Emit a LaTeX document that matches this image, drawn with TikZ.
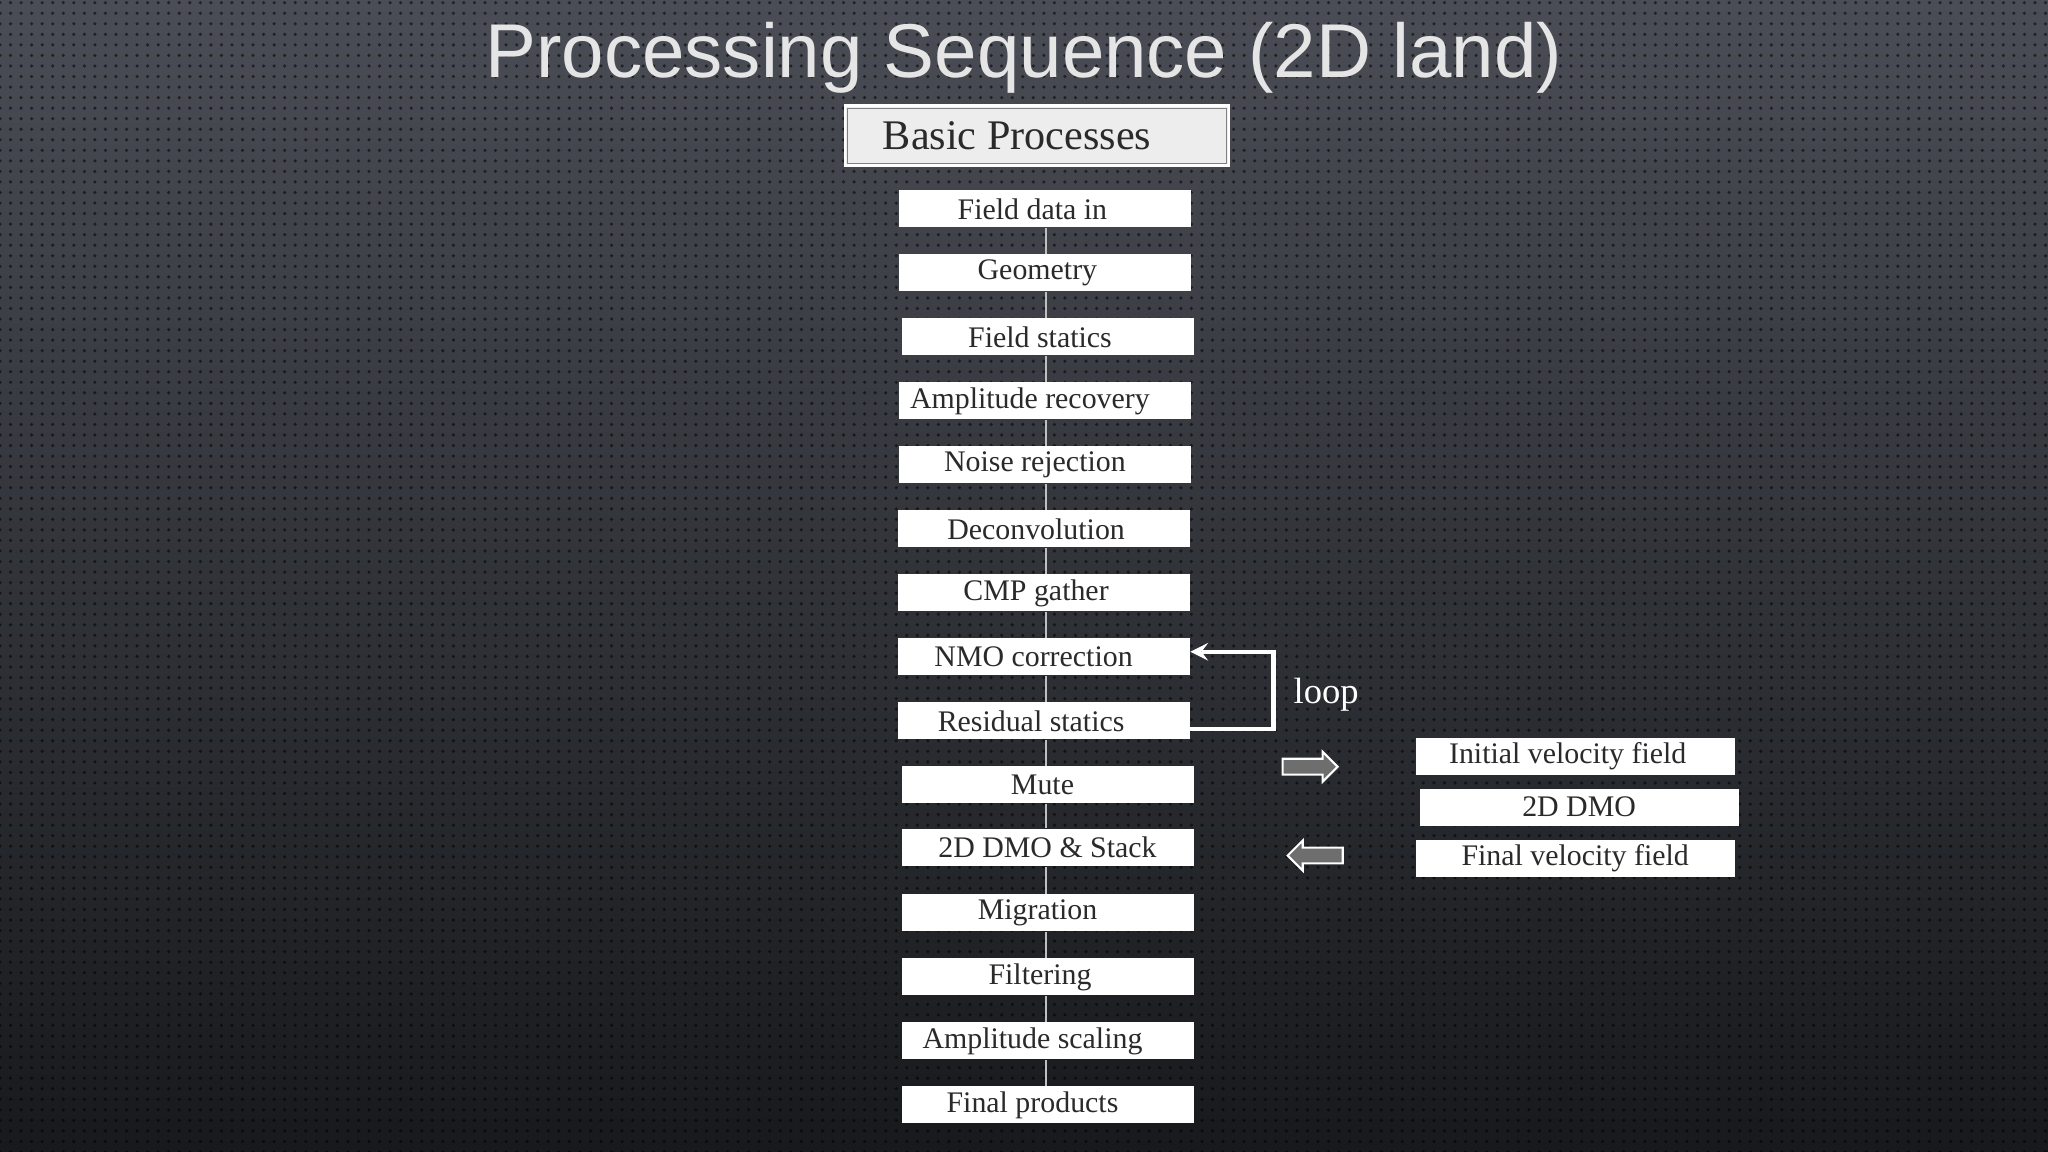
\documentclass[tikz,border=0pt]{standalone}
\usepackage{fontspec}
\setmainfont{Liberation Serif}
\newfontfamily\titlefont{Liberation Sans}
\usetikzlibrary{shapes.arrows,patterns,calc}
\definecolor{bgtop}{HTML}{4A4D55}
\definecolor{bgbot}{HTML}{17191C}
\definecolor{boxtext}{HTML}{2A2A2A}
\definecolor{arrowgray}{HTML}{6E6E6E}
\tikzset{
  procbox/.style={draw=none,fill=white,minimum width=2.92cm,minimum height=0.37cm,inner sep=0pt,font=\fontsize{8.5}{9}\selectfont,text=boxtext},
  sidebox/.style={procbox,minimum width=3.19cm},
  link/.style={draw=white!75!black,line width=0.5pt},
  blockarrow/.style={single arrow,draw=white,line width=0.6pt,fill=arrowgray,minimum height=0.55cm,minimum width=0.3cm,single arrow head extend=0.06cm,inner xsep=0pt,inner ysep=1.6pt}
}
\begin{document}
\begin{tikzpicture}[x=0.01306cm,y=-0.01306cm]
\shade[top color=bgtop,bottom color=bgbot] (0,0) rectangle (1568,882);
\fill[pattern=dots,pattern color=black,opacity=0.55] (0,0) rectangle (1568,882);
\useasboundingbox (0,0) rectangle (1568,882);
\node[text=white!90!black,font=\titlefont\fontsize{21.7}{24}\selectfont] (title) at (784,44) {Processing Sequence (2D land)};
\node[draw=white,line width=0.8pt,fill=white!93!black,minimum width=3.84cm,minimum height=0.6cm,inner sep=0pt,font=\fontsize{12}{13}\selectfont,text=boxtext] (basic) at (794,104) {\hspace*{-0.4cm}Basic Processes};
\draw[gray,line width=0.4pt] ($(basic.north west)+(3,3)$) rectangle ($(basic.south east)+(-3,-3)$);
\node[procbox] (b1) at (800,160) {\hspace*{-0.25cm}Field data in};
\node[procbox] (b2) at (800,209) {\hspace*{-0.15cm}Geometry};
\node[procbox] (b3) at (802,258) {\hspace*{-0.15cm}Field statics};
\node[procbox] (b4) at (800,307) {\hspace*{-0.3cm}Amplitude recovery};
\node[procbox] (b5) at (800,356) {\hspace*{-0.2cm}Noise rejection};
\node[procbox] (b6) at (799,405) {\hspace*{-0.15cm}Deconvolution};
\node[procbox] (b7) at (799,454) {\hspace*{-0.15cm}CMP gather};
\node[procbox] (b8) at (799,503) {\hspace*{-0.2cm}NMO correction};
\node[procbox] (b9) at (799,552) {\hspace*{-0.25cm}Residual statics};
\node[procbox] (b10) at (802,601) {\hspace*{-0.1cm}Mute};
\node[procbox] (b11) at (802,649) {2D DMO \& Stack};
\node[procbox] (b12) at (802,699) {\hspace*{-0.2cm}Migration};
\node[procbox] (b13) at (802,748) {\hspace*{-0.15cm}Filtering};
\node[procbox] (b14) at (802,797) {\hspace*{-0.3cm}Amplitude scaling};
\node[procbox] (b15) at (802,846) {\hspace*{-0.3cm}Final products};
\coordinate (lk) at (801,0);
\foreach \a/\b in {1/2,2/3,3/4,4/5,5/6,6/7,7/8,8/9,9/10,10/11,11/12,12/13,13/14,14/15}
  \draw[link] (b\a.south -| lk) -- (b\b.north -| lk);
\node[sidebox] (r1) at (1206,579) {\hspace*{-0.15cm}Initial velocity field};
\node[sidebox] (r2) at (1209,618) {2D DMO};
\node[sidebox] (r3) at (1206,657) {Final velocity field};
\coordinate (lp) at (975,530);
\draw[white,line width=1.2pt,-stealth] (b9.east |- 0,558) -| (lp) |- (b8.east |- 0,499);
\node[white,font=\fontsize{10.4}{11}\selectfont,anchor=west] (looplbl) at (981,532) {loop};
\node[blockarrow] (ar1) at (1000,587) {};
\node[blockarrow,shape border rotate=180] (ar2) at (1010,655) {};
\end{tikzpicture}
\end{document}
